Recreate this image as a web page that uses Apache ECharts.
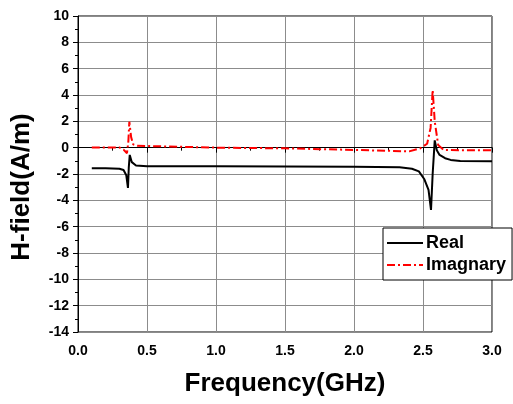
<!DOCTYPE html>
<html><head><meta charset="utf-8">
<script src="https://cdn.jsdelivr.net/npm/echarts@6/dist/echarts.min.js"></script>
<style>html,body{margin:0;padding:0;background:#fff}#c{width:513px;height:404px}</style>
</head><body><div id="c"></div>
<script>
const realFreq = [0.10,0.20,0.30,0.33,0.35,0.362,0.368,0.375,0.39,0.42,0.50,1.00,1.50,2.00,2.33,2.42,2.47,2.51,2.54,2.558,2.57,2.585,2.60,2.62,2.66,2.70,2.77,3.00];
const realVals = [-1.57,-1.57,-1.60,-1.70,-2.1,-3.06,-1.5,-0.55,-1.1,-1.35,-1.42,-1.42,-1.43,-1.45,-1.49,-1.6,-1.8,-2.4,-3.2,-4.73,-2.0,0.55,-0.2,-0.55,-0.8,-0.93,-1.01,-1.03];
const imagFreq = [0.10,0.30,0.33,0.355,0.365,0.372,0.385,0.40,0.43,0.60,1.00,1.50,2.00,2.40,2.48,2.53,2.555,2.57,2.585,2.61,2.65,2.80,3.00];
const imagVals = [0.02,0.02,-0.15,-0.42,0.5,1.97,0.8,0.25,0.15,0.10,0.0,-0.05,-0.17,-0.28,-0.05,0.3,1.5,4.38,2.0,0.2,-0.17,-0.2,-0.2];
const xTicks = ['0.0','0.5','1.0','1.5','2.0','2.5','3.0'];

const zip = (a,b)=>a.map((v,i)=>[v,b[i]]);
const font = 'Liberation Sans, Arial, sans-serif';
const chart = echarts.init(document.getElementById('c'));
chart.setOption({
  animation:false,
  backgroundColor:'#fff',
  grid:{left:78,right:21,top:16,bottom:72,show:true,borderColor:'#000',borderWidth:1},
  xAxis:{type:'value',min:0,max:3,interval:0.5,
    name:'Frequency(GHz)',nameLocation:'middle',nameGap:39,
    nameTextStyle:{fontFamily:font,fontWeight:'bold',fontSize:26,color:'#000'},
    axisLine:{lineStyle:{color:'#000',width:1}},
    axisTick:{show:true,inside:false,length:5,lineStyle:{color:'#000'}},
    minorTick:{show:true,splitNumber:2,length:3,lineStyle:{color:'#000'}},
    axisLabel:{fontFamily:font,fontWeight:'bold',fontSize:14,color:'#000',margin:12,
      formatter:(v)=>xTicks[Math.round(v/0.5)]},
    splitLine:{show:true,lineStyle:{color:'#8c8c8c',width:1}}
  },
  yAxis:{type:'value',min:-14,max:10,interval:2,
    name:'H-field(A/m)',nameLocation:'middle',nameGap:43,
    nameTextStyle:{fontFamily:font,fontWeight:'bold',fontSize:26,color:'#000',padding:[0,26,0,0]},
    axisLine:{show:true,lineStyle:{color:'#000',width:1}},
    axisTick:{show:true,inside:false,length:5,lineStyle:{color:'#000'}},
    minorTick:{show:true,splitNumber:2,length:3,lineStyle:{color:'#000'}},
    axisLabel:{fontFamily:font,fontWeight:'bold',fontSize:14,color:'#000',margin:9},
    splitLine:{show:true,lineStyle:{color:'#8c8c8c',width:1}}
  },
  legend:{
    orient:'vertical',left:383,top:228,width:125,
    backgroundColor:'#fff',borderColor:'#000',borderWidth:1,borderRadius:0,
    padding:[6,6,6,3],itemGap:4,itemWidth:36,itemHeight:14,
    itemStyle:{opacity:0},
    textStyle:{fontFamily:font,fontWeight:'bold',fontSize:18,color:'#000',padding:[0,0,0,-2]},
    data:['Real','Imagnary']
  },
  series:[
    {name:'Real',type:'line',data:zip(realFreq,realVals),symbol:'none',
      lineStyle:{color:'#000',width:2},itemStyle:{color:'#000'},z:3},
    {name:'Imagnary',type:'line',data:zip(imagFreq,imagVals),symbol:'none',
      lineStyle:{color:'#f00',width:2,type:[8,3,2,3]},itemStyle:{color:'#f00'},z:2}
  ]
});
</script></body></html>
